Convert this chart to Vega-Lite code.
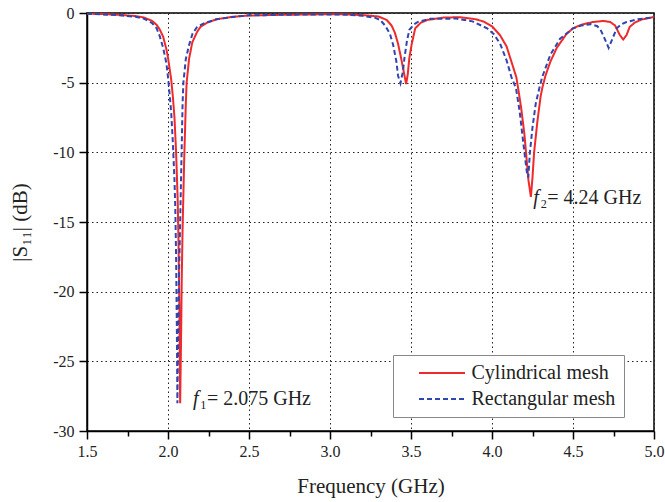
{
  "$schema": "https://vega.github.io/schema/vega-lite/v6.json",
  "autosize": "none",
  "width": 567,
  "height": 418,
  "padding": {"left": 87, "top": 13, "right": 11, "bottom": 72},
  "background": "white",
  "config": {
    "font": "Liberation Serif",
    "view": {"stroke": "black", "strokeWidth": 1.5},
    "axis": {
      "domainColor": "black", "domainWidth": 1.5,
      "tickColor": "black", "tickWidth": 1.5,
      "labelColor": "#222", "labelFontSize": 16, "labelFont": "Liberation Serif",
      "titleColor": "#222", "titleFontSize": 21, "titleFontWeight": "normal", "titleFont": "Liberation Serif",
      "gridColor": "#222", "gridDash": [1.5, 3], "gridWidth": 1,
      "labelFlush": false
    },
    "legend": {
      "orient": "none", "legendX": 306, "legendY": 342,
      "fillColor": "white", "strokeColor": "#888", "padding": 8,
      "labelFontSize": 20, "labelFont": "Liberation Serif", "labelColor": "#222",
      "symbolType": "M-2.875,0H2.875", "symbolSize": 256, "symbolStrokeWidth": 2,
      "symbolOffset": 31, "labelOffset": 19.5,
      "rowPadding": 6
    }
  },
  "datasets": {
    "curves": [
      {"f": 1.5, "s": -0.05, "mesh": "Cylindrical mesh"},
      {"f": 1.6, "s": -0.08, "mesh": "Cylindrical mesh"},
      {"f": 1.7, "s": -0.13, "mesh": "Cylindrical mesh"},
      {"f": 1.8, "s": -0.22, "mesh": "Cylindrical mesh"},
      {"f": 1.85, "s": -0.32, "mesh": "Cylindrical mesh"},
      {"f": 1.9, "s": -0.55, "mesh": "Cylindrical mesh"},
      {"f": 1.93, "s": -0.85, "mesh": "Cylindrical mesh"},
      {"f": 1.95, "s": -1.2, "mesh": "Cylindrical mesh"},
      {"f": 1.97, "s": -1.7, "mesh": "Cylindrical mesh"},
      {"f": 1.99, "s": -2.6, "mesh": "Cylindrical mesh"},
      {"f": 2.0, "s": -3.2, "mesh": "Cylindrical mesh"},
      {"f": 2.01, "s": -4.0, "mesh": "Cylindrical mesh"},
      {"f": 2.02, "s": -4.8, "mesh": "Cylindrical mesh"},
      {"f": 2.03, "s": -6.0, "mesh": "Cylindrical mesh"},
      {"f": 2.04, "s": -7.5, "mesh": "Cylindrical mesh"},
      {"f": 2.05, "s": -10.0, "mesh": "Cylindrical mesh"},
      {"f": 2.06, "s": -13.5, "mesh": "Cylindrical mesh"},
      {"f": 2.065, "s": -16.5, "mesh": "Cylindrical mesh"},
      {"f": 2.07, "s": -21.0, "mesh": "Cylindrical mesh"},
      {"f": 2.075, "s": -28.0, "mesh": "Cylindrical mesh"},
      {"f": 2.08, "s": -24.0, "mesh": "Cylindrical mesh"},
      {"f": 2.085, "s": -19.0, "mesh": "Cylindrical mesh"},
      {"f": 2.09, "s": -15.5, "mesh": "Cylindrical mesh"},
      {"f": 2.1, "s": -10.5, "mesh": "Cylindrical mesh"},
      {"f": 2.11, "s": -6.5, "mesh": "Cylindrical mesh"},
      {"f": 2.115, "s": -5.0, "mesh": "Cylindrical mesh"},
      {"f": 2.13, "s": -3.3, "mesh": "Cylindrical mesh"},
      {"f": 2.15, "s": -2.1, "mesh": "Cylindrical mesh"},
      {"f": 2.18, "s": -1.35, "mesh": "Cylindrical mesh"},
      {"f": 2.2, "s": -1.0, "mesh": "Cylindrical mesh"},
      {"f": 2.24, "s": -0.7, "mesh": "Cylindrical mesh"},
      {"f": 2.3, "s": -0.45, "mesh": "Cylindrical mesh"},
      {"f": 2.4, "s": -0.27, "mesh": "Cylindrical mesh"},
      {"f": 2.5, "s": -0.18, "mesh": "Cylindrical mesh"},
      {"f": 2.7, "s": -0.13, "mesh": "Cylindrical mesh"},
      {"f": 2.9, "s": -0.1, "mesh": "Cylindrical mesh"},
      {"f": 3.06, "s": -0.09, "mesh": "Cylindrical mesh"},
      {"f": 3.2, "s": -0.15, "mesh": "Cylindrical mesh"},
      {"f": 3.3, "s": -0.25, "mesh": "Cylindrical mesh"},
      {"f": 3.35, "s": -0.5, "mesh": "Cylindrical mesh"},
      {"f": 3.38, "s": -0.9, "mesh": "Cylindrical mesh"},
      {"f": 3.4, "s": -1.4, "mesh": "Cylindrical mesh"},
      {"f": 3.42, "s": -2.2, "mesh": "Cylindrical mesh"},
      {"f": 3.44, "s": -3.3, "mesh": "Cylindrical mesh"},
      {"f": 3.46, "s": -4.5, "mesh": "Cylindrical mesh"},
      {"f": 3.47, "s": -5.1, "mesh": "Cylindrical mesh"},
      {"f": 3.48, "s": -4.4, "mesh": "Cylindrical mesh"},
      {"f": 3.49, "s": -3.2, "mesh": "Cylindrical mesh"},
      {"f": 3.505, "s": -2.2, "mesh": "Cylindrical mesh"},
      {"f": 3.526, "s": -1.1, "mesh": "Cylindrical mesh"},
      {"f": 3.56, "s": -0.7, "mesh": "Cylindrical mesh"},
      {"f": 3.6, "s": -0.5, "mesh": "Cylindrical mesh"},
      {"f": 3.7, "s": -0.33, "mesh": "Cylindrical mesh"},
      {"f": 3.8, "s": -0.3, "mesh": "Cylindrical mesh"},
      {"f": 3.9, "s": -0.45, "mesh": "Cylindrical mesh"},
      {"f": 3.95, "s": -0.62, "mesh": "Cylindrical mesh"},
      {"f": 4.0, "s": -0.95, "mesh": "Cylindrical mesh"},
      {"f": 4.05, "s": -1.6, "mesh": "Cylindrical mesh"},
      {"f": 4.09, "s": -2.4, "mesh": "Cylindrical mesh"},
      {"f": 4.12, "s": -3.5, "mesh": "Cylindrical mesh"},
      {"f": 4.15, "s": -4.6, "mesh": "Cylindrical mesh"},
      {"f": 4.16, "s": -5.3, "mesh": "Cylindrical mesh"},
      {"f": 4.18, "s": -6.8, "mesh": "Cylindrical mesh"},
      {"f": 4.2, "s": -8.7, "mesh": "Cylindrical mesh"},
      {"f": 4.21, "s": -10.0, "mesh": "Cylindrical mesh"},
      {"f": 4.225, "s": -12.0, "mesh": "Cylindrical mesh"},
      {"f": 4.24, "s": -13.2, "mesh": "Cylindrical mesh"},
      {"f": 4.25, "s": -11.8, "mesh": "Cylindrical mesh"},
      {"f": 4.26, "s": -10.0, "mesh": "Cylindrical mesh"},
      {"f": 4.28, "s": -7.8, "mesh": "Cylindrical mesh"},
      {"f": 4.3, "s": -6.0, "mesh": "Cylindrical mesh"},
      {"f": 4.31, "s": -5.4, "mesh": "Cylindrical mesh"},
      {"f": 4.33, "s": -4.5, "mesh": "Cylindrical mesh"},
      {"f": 4.36, "s": -3.5, "mesh": "Cylindrical mesh"},
      {"f": 4.4, "s": -2.5, "mesh": "Cylindrical mesh"},
      {"f": 4.46, "s": -1.5, "mesh": "Cylindrical mesh"},
      {"f": 4.5, "s": -1.1, "mesh": "Cylindrical mesh"},
      {"f": 4.55, "s": -0.85, "mesh": "Cylindrical mesh"},
      {"f": 4.62, "s": -0.65, "mesh": "Cylindrical mesh"},
      {"f": 4.69, "s": -0.57, "mesh": "Cylindrical mesh"},
      {"f": 4.73, "s": -0.65, "mesh": "Cylindrical mesh"},
      {"f": 4.76, "s": -0.9, "mesh": "Cylindrical mesh"},
      {"f": 4.79, "s": -1.6, "mesh": "Cylindrical mesh"},
      {"f": 4.81, "s": -1.9, "mesh": "Cylindrical mesh"},
      {"f": 4.83, "s": -1.6, "mesh": "Cylindrical mesh"},
      {"f": 4.85, "s": -1.0, "mesh": "Cylindrical mesh"},
      {"f": 4.88, "s": -0.7, "mesh": "Cylindrical mesh"},
      {"f": 4.92, "s": -0.48, "mesh": "Cylindrical mesh"},
      {"f": 5.0, "s": -0.28, "mesh": "Cylindrical mesh"},

      {"f": 1.5, "s": -0.06, "mesh": "Rectangular mesh"},
      {"f": 1.6, "s": -0.1, "mesh": "Rectangular mesh"},
      {"f": 1.7, "s": -0.16, "mesh": "Rectangular mesh"},
      {"f": 1.8, "s": -0.27, "mesh": "Rectangular mesh"},
      {"f": 1.85, "s": -0.4, "mesh": "Rectangular mesh"},
      {"f": 1.9, "s": -0.7, "mesh": "Rectangular mesh"},
      {"f": 1.93, "s": -1.1, "mesh": "Rectangular mesh"},
      {"f": 1.95, "s": -1.7, "mesh": "Rectangular mesh"},
      {"f": 1.97, "s": -2.5, "mesh": "Rectangular mesh"},
      {"f": 1.99, "s": -3.6, "mesh": "Rectangular mesh"},
      {"f": 2.0, "s": -4.6, "mesh": "Rectangular mesh"},
      {"f": 2.01, "s": -5.8, "mesh": "Rectangular mesh"},
      {"f": 2.02, "s": -7.2, "mesh": "Rectangular mesh"},
      {"f": 2.03, "s": -9.3, "mesh": "Rectangular mesh"},
      {"f": 2.04, "s": -12.0, "mesh": "Rectangular mesh"},
      {"f": 2.045, "s": -14.0, "mesh": "Rectangular mesh"},
      {"f": 2.05, "s": -17.5, "mesh": "Rectangular mesh"},
      {"f": 2.055, "s": -23.0, "mesh": "Rectangular mesh"},
      {"f": 2.058, "s": -28.0, "mesh": "Rectangular mesh"},
      {"f": 2.062, "s": -24.0, "mesh": "Rectangular mesh"},
      {"f": 2.068, "s": -19.0, "mesh": "Rectangular mesh"},
      {"f": 2.075, "s": -15.0, "mesh": "Rectangular mesh"},
      {"f": 2.084, "s": -10.0, "mesh": "Rectangular mesh"},
      {"f": 2.09, "s": -6.5, "mesh": "Rectangular mesh"},
      {"f": 2.095, "s": -5.0, "mesh": "Rectangular mesh"},
      {"f": 2.11, "s": -3.3, "mesh": "Rectangular mesh"},
      {"f": 2.13, "s": -2.3, "mesh": "Rectangular mesh"},
      {"f": 2.152, "s": -1.46, "mesh": "Rectangular mesh"},
      {"f": 2.18, "s": -1.0, "mesh": "Rectangular mesh"},
      {"f": 2.218, "s": -0.76, "mesh": "Rectangular mesh"},
      {"f": 2.3, "s": -0.45, "mesh": "Rectangular mesh"},
      {"f": 2.4, "s": -0.28, "mesh": "Rectangular mesh"},
      {"f": 2.5, "s": -0.17, "mesh": "Rectangular mesh"},
      {"f": 2.7, "s": -0.13, "mesh": "Rectangular mesh"},
      {"f": 2.9, "s": -0.1, "mesh": "Rectangular mesh"},
      {"f": 3.06, "s": -0.1, "mesh": "Rectangular mesh"},
      {"f": 3.2, "s": -0.2, "mesh": "Rectangular mesh"},
      {"f": 3.28, "s": -0.35, "mesh": "Rectangular mesh"},
      {"f": 3.31, "s": -0.5, "mesh": "Rectangular mesh"},
      {"f": 3.34, "s": -0.9, "mesh": "Rectangular mesh"},
      {"f": 3.37, "s": -1.5, "mesh": "Rectangular mesh"},
      {"f": 3.39, "s": -2.3, "mesh": "Rectangular mesh"},
      {"f": 3.41, "s": -3.5, "mesh": "Rectangular mesh"},
      {"f": 3.42, "s": -4.5, "mesh": "Rectangular mesh"},
      {"f": 3.435, "s": -5.05, "mesh": "Rectangular mesh"},
      {"f": 3.45, "s": -4.2, "mesh": "Rectangular mesh"},
      {"f": 3.46, "s": -3.2, "mesh": "Rectangular mesh"},
      {"f": 3.475, "s": -2.0, "mesh": "Rectangular mesh"},
      {"f": 3.49, "s": -1.2, "mesh": "Rectangular mesh"},
      {"f": 3.52, "s": -0.8, "mesh": "Rectangular mesh"},
      {"f": 3.54, "s": -0.65, "mesh": "Rectangular mesh"},
      {"f": 3.62, "s": -0.42, "mesh": "Rectangular mesh"},
      {"f": 3.78, "s": -0.4, "mesh": "Rectangular mesh"},
      {"f": 3.88, "s": -0.6, "mesh": "Rectangular mesh"},
      {"f": 3.97, "s": -1.1, "mesh": "Rectangular mesh"},
      {"f": 4.01, "s": -1.5, "mesh": "Rectangular mesh"},
      {"f": 4.05, "s": -2.2, "mesh": "Rectangular mesh"},
      {"f": 4.09, "s": -3.4, "mesh": "Rectangular mesh"},
      {"f": 4.12, "s": -4.6, "mesh": "Rectangular mesh"},
      {"f": 4.148, "s": -5.4, "mesh": "Rectangular mesh"},
      {"f": 4.17, "s": -7.0, "mesh": "Rectangular mesh"},
      {"f": 4.2, "s": -10.0, "mesh": "Rectangular mesh"},
      {"f": 4.215, "s": -11.4, "mesh": "Rectangular mesh"},
      {"f": 4.224, "s": -11.8, "mesh": "Rectangular mesh"},
      {"f": 4.234, "s": -10.0, "mesh": "Rectangular mesh"},
      {"f": 4.25, "s": -8.2, "mesh": "Rectangular mesh"},
      {"f": 4.27, "s": -6.5, "mesh": "Rectangular mesh"},
      {"f": 4.292, "s": -5.4, "mesh": "Rectangular mesh"},
      {"f": 4.31, "s": -4.6, "mesh": "Rectangular mesh"},
      {"f": 4.36, "s": -3.0, "mesh": "Rectangular mesh"},
      {"f": 4.42, "s": -1.85, "mesh": "Rectangular mesh"},
      {"f": 4.5, "s": -1.1, "mesh": "Rectangular mesh"},
      {"f": 4.55, "s": -0.9, "mesh": "Rectangular mesh"},
      {"f": 4.61, "s": -0.8, "mesh": "Rectangular mesh"},
      {"f": 4.65, "s": -0.95, "mesh": "Rectangular mesh"},
      {"f": 4.67, "s": -1.2, "mesh": "Rectangular mesh"},
      {"f": 4.69, "s": -1.7, "mesh": "Rectangular mesh"},
      {"f": 4.72, "s": -2.5, "mesh": "Rectangular mesh"},
      {"f": 4.745, "s": -1.8, "mesh": "Rectangular mesh"},
      {"f": 4.77, "s": -1.1, "mesh": "Rectangular mesh"},
      {"f": 4.8, "s": -0.8, "mesh": "Rectangular mesh"},
      {"f": 4.83, "s": -0.65, "mesh": "Rectangular mesh"},
      {"f": 4.9, "s": -0.45, "mesh": "Rectangular mesh"},
      {"f": 5.0, "s": -0.3, "mesh": "Rectangular mesh"}
    ],
    "notes": [
      {"f": 2.154, "s": -28.15, "sym": "f", "rest": "₁= 2.075 GHz"},
      {"f": 4.255, "s": -13.7, "sym": "f", "rest": "₂= 4.24 GHz"}
    ]
  },
  "layer": [
    {
      "data": {"name": "curves"},
      "mark": {"type": "line", "strokeWidth": 2, "clip": true},
      "encoding": {
        "x": {
          "field": "f", "type": "quantitative",
          "scale": {"domain": [1.5, 5], "nice": false, "zero": false},
          "axis": {
            "title": "Frequency (GHz)",
            "values": [1.5, 1.75, 2, 2.25, 2.5, 2.75, 3, 3.25, 3.5, 3.75, 4, 4.25, 4.5, 4.75, 5],
            "labelExpr": "datum.value % 0.5 === 0 ? format(datum.value, '.1f') : ''",
            "labelFont": "Liberation Serif",
            "labelFlush": false,
            "tickSize": {"condition": {"test": "datum.value % 0.5 === 0", "value": 8}, "value": 5},
            "gridOpacity": {"condition": {"test": "datum.value % 0.5 === 0", "value": 1}, "value": 0},
            "labelPadding": 4,
            "titlePadding": 16
          }
        },
        "y": {
          "field": "s", "type": "quantitative",
          "scale": {"domain": [-30, 0], "nice": false, "zero": false},
          "axis": {
            "title": "|S₁₁| (dB)",
            "values": [-30, -27.5, -25, -22.5, -20, -17.5, -15, -12.5, -10, -7.5, -5, -2.5, 0],
            "labelExpr": "datum.value % 5 === 0 ? '' + datum.value : ''",
            "labelFont": "Liberation Serif",
            "labelFlush": false,
            "tickSize": {"condition": {"test": "datum.value % 5 === 0", "value": 8}, "value": 5},
            "gridOpacity": {"condition": {"test": "datum.value % 5 === 0", "value": 1}, "value": 0},
            "labelPadding": 5,
            "titlePadding": 22
          }
        },
        "color": {
          "field": "mesh", "type": "nominal",
          "scale": {"domain": ["Cylindrical mesh", "Rectangular mesh"], "range": ["#f02a2a", "#2f45b0"]},
          "legend": {"title": null}
        },
        "strokeDash": {
          "field": "mesh", "type": "nominal",
          "scale": {"domain": ["Cylindrical mesh", "Rectangular mesh"], "range": [[1, 0], [5, 3]]},
          "legend": {"title": null}
        }
      }
    },
    {
      "data": {"name": "notes"},
      "mark": {"type": "text", "font": "Liberation Serif", "fontStyle": "italic", "fontSize": 20, "align": "left", "baseline": "alphabetic", "color": "#222"},
      "encoding": {
        "x": {"field": "f", "type": "quantitative"},
        "y": {"field": "s", "type": "quantitative"},
        "text": {"field": "sym"}
      }
    },
    {
      "data": {"name": "notes"},
      "mark": {"type": "text", "font": "Liberation Serif", "fontSize": 20, "align": "left", "baseline": "alphabetic", "dx": 7, "color": "#222"},
      "encoding": {
        "x": {"field": "f", "type": "quantitative"},
        "y": {"field": "s", "type": "quantitative"},
        "text": {"field": "rest"}
      }
    }
  ]
}
